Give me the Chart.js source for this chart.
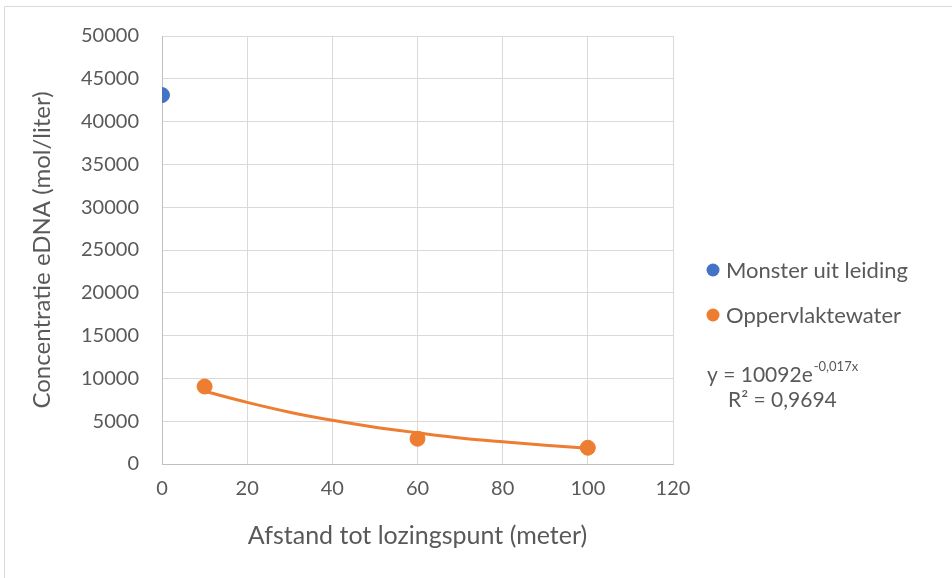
<!DOCTYPE html>
<html>
<head>
<meta charset="utf-8">
<script src="https://cdn.jsdelivr.net/npm/chart.js@4/dist/chart.umd.min.js"></script>
<style>
html,body{margin:0;padding:0;background:#fff;}
#wrap{width:952px;height:578px;position:relative;}
</style>
</head>
<body>
<div id="wrap"><canvas id="c" width="952" height="578"></canvas></div>
<script>
// Data
const pipeX = [0];
const pipeY = [43100];
const surfaceX = [10, 60, 100];
const surfaceY = [9050, 2950, 1900];
// Exponential trendline values
const trendX = [10, 20, 30, 40, 50, 60, 70, 80, 90, 100];
const trendY = [8500, 7200, 6050, 5100, 4300, 3650, 3050, 2600, 2200, 1850];
const seriesNames = ['Monster uit leiding', 'Oppervlaktewater'];
const xTitle = 'Afstand tot lozingspunt (meter)';
const yTitle = 'Concentratie eDNA (mol/liter)';
const eqMain = 'y = 10092e';
const eqSup = '-0,017x';
const r2Text = 'R² = 0,9694';

const BLUE = '#4472C4', ORANGE = '#ED7D31', TXT = '#595959';
const FONT = 'Lato';

const pts = (xs, ys) => xs.map((x, i) => ({x: x, y: ys[i]}));

const overlay = {
  id: 'overlay',
  afterDraw(chart) {
    const ctx = chart.ctx;
    ctx.save();
    // outer frame (top & left visible)
    ctx.strokeStyle = '#d9d9d9';
    ctx.lineWidth = 1;
    ctx.beginPath();
    ctx.moveTo(4.5, 578); ctx.lineTo(4.5, 6.5); ctx.lineTo(952, 6.5);
    ctx.stroke();
    // legend
    const items = [[BLUE, seriesNames[0], 270], [ORANGE, seriesNames[1], 315]];
    ctx.textBaseline = 'middle';
    ctx.textAlign = 'left';
    ctx.font = '22px ' + FONT;
    items.forEach(([col, label, y]) => {
      ctx.fillStyle = col;
      ctx.beginPath(); ctx.arc(713, y, 6.5, 0, Math.PI * 2); ctx.fill();
      ctx.fillStyle = TXT;
      ctx.fillText(label, 726, y + 1);
    });
    // trendline equation
    ctx.fillStyle = TXT;
    ctx.font = '21px ' + FONT;
    ctx.fillText(eqMain, 707, 375);
    const w = ctx.measureText(eqMain).width;
    ctx.font = '13px ' + FONT;
    ctx.fillText(eqSup, 707 + w + 1, 367);
    ctx.font = '21px ' + FONT;
    ctx.fillText(r2Text, 728, 400);
    ctx.restore();
  }
};

new Chart(document.getElementById('c'), {
  type: 'scatter',
  data: {
    datasets: [
      {label: seriesNames[0], data: pts(pipeX, pipeY), backgroundColor: BLUE, borderColor: BLUE, pointRadius: 7.5, pointHoverRadius: 7.5},
      {label: seriesNames[1], data: pts(surfaceX, surfaceY), backgroundColor: ORANGE, borderColor: ORANGE, pointRadius: 7.5, pointHoverRadius: 7.5},
      {label: 'trend', type: 'line', data: pts(trendX, trendY), borderColor: ORANGE, borderWidth: 3, pointRadius: 0, fill: false, cubicInterpolationMode: 'monotone', showLine: true}
    ]
  },
  options: {
    responsive: false,
    animation: false,
    layout: {padding: {left: 0, right: 279, top: 36, bottom: 0}},
    plugins: {legend: {display: false}, tooltip: {enabled: false}},
    scales: {
      x: {
        type: 'linear', min: 0, max: 120,
        ticks: {stepSize: 20, color: TXT, font: {family: FONT, size: 20}, padding: 13, callback: v => String(v)},
        grid: {color: '#d9d9d9', drawTicks: false, lineWidth: 1},
        border: {color: '#bfbfbf', width: 1},
        title: {display: true, text: xTitle, color: TXT, font: {family: FONT, size: 25}, padding: {top: 0, bottom: 27}},
        afterFit(s) { s.height = 114; }
      },
      y: {
        type: 'linear', min: 0, max: 50000,
        ticks: {stepSize: 5000, color: TXT, font: {family: FONT, size: 20}, padding: 23, callback: v => String(v)},
        grid: {color: '#d9d9d9', drawTicks: false, lineWidth: 1},
        border: {color: '#bfbfbf', width: 1},
        title: {display: true, text: yTitle, color: TXT, font: {family: FONT, size: 24}, padding: {top: 28, bottom: 0}},
        afterFit(s) { s.width = 162; }
      }
    }
  },
  plugins: [overlay]
});
</script>
</body>
</html>
